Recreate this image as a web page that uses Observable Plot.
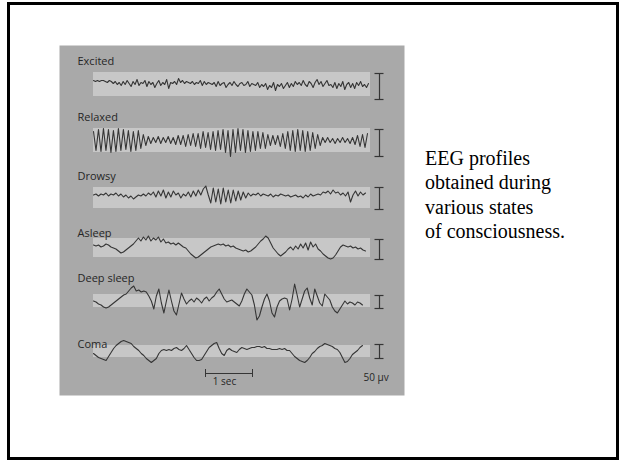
<!DOCTYPE html>
<html><head><meta charset="utf-8">
<script src="https://cdn.jsdelivr.net/npm/d3@7"></script>
<script src="https://cdn.jsdelivr.net/npm/@observablehq/plot@0.6"></script>
<style>
html,body{margin:0;padding:0;background:#fff;}
#wrap{position:relative;width:620px;height:462px;overflow:hidden;}
#chart{position:absolute;left:0;top:0;}
#frame{position:absolute;left:7px;top:2px;width:612px;height:458px;border:3px solid #000;box-sizing:border-box;}
#caption{position:absolute;left:425px;top:146px;font-family:"Liberation Serif","Times New Roman",serif;font-size:20px;line-height:24.3px;color:#000;white-space:nowrap;}
</style></head><body>
<div id="wrap"><div id="chart"></div><div id="frame"></div>
<div id="caption">EEG profiles<br>obtained during<br>various states<br>of consciousness.</div></div>
<script>
// ---------- data ----------
const states = ["Excited", "Relaxed", "Drowsy", "Asleep", "Deep sleep", "Coma"];

const excited = [
4,3,4,3,4,4,3,2,4,3, 1,3,0,2,-1,3,0,4,1,-2, 3,0,5,-1,2,1,4,-2,3,0, 2,-3,1,4,-1,2,0,5,-4,2,
1,3,0,6,2,4,1,3,2,1, 3,0,2,1,4,-1,3,0,2,1, 0,2,-2,3,-1,1,2,-3,0,2, -1,3,0,-2,1,2,-1,0,3,-2,
1,0,-1,2,-3,0,-2,1,-5,-1, -3,2,-6,0,-2,1,-4,-1,2,-3, 1,-2,3,0,2,-1,4,0,-2,3, 1,-3,2,5,0,3,-2,1,4,-1,
0,-3,2,-4,1,-2,3,-5,0,2, -3,1,-4,2,-1,3,-2,0,-3,1];

const relaxed = [
9,-10,11,-11,12,-10,11,-12,10,-11, 12,-10,11,-9,10,-11,9,-10,10,-8, 6,-5,4,-3,3,-2,4,-3,3,-2,
4,-3,3,-4,5,-4,5,-6,6,-5, 7,-6,7,-8,9,-7,8,-9,9,-10, 10,-9,11,-12,10,-16,11,-12,12,-10,
11,-12,10,-11,9,-10,9,-8,8,-8, 6,-5,5,-4,5,-6,7,-8,9,-10, 10,-11,11,-10,10,-11,9,-10,8,-8,
6,-5,3,-2,3,-2,2,-3,2,-2, 3,-2,2,-3,3,-4,5,-6,6,-7,7];

const drowsy = [
3,4,2,4,3,5,2,4,3,5, 2,4,1,3,0,2,-1,1,3,2, 4,2,5,3,6,1,7,2,8,0, 6,1,7,3,5,0,4,2,6,1,
7,2,8,3,9,12,3,-5,10,-4, 9,-6,10,-4,8,-5,8,-3,7,-2, 6,0,5,2,4,3,5,2,4,3, 2,4,1,3,2,4,3,2,3,1,
2,3,1,2,0,3,1,4,2,3, 4,3,6,5,7,4,8,5,6,3, 5,2,6,-4,3,7,2,6,3,5];

const asleep = [
3,2,3,1,2,4,3,1,0,-1, -3,-5,-4,-2,0,2,4,7,10,7, 11,8,12,7,10,8,11,6,9,5, 6,4,5,3,5,3,1,0,-3,-6,
-8,-10,-9,-7,-5,-3,-1,1,2,3, 4,3,4,2,3,1,2,0,-1,-2, -3,-2,-4,-3,-1,1,4,7,9,12, 10,5,0,-3,-6,-8,-6,-4,-1,1,
-2,2,-1,4,0,5,-2,6,1,4, -1,-3,-6,-8,-10,-11,-10,-7,-3,1, 3,2,1,2,0,1,-1,0,-2,-3];

const deepSleep = [
0,-1,-3,-4,-6,-7,-6,-4,-2,0, 2,4,6,7,10,13,15,10,11,9, 10,9,5,0,-8,5,12,-2,-12,0, 11,0,-10,-14,-3,8,2,-3,0,2,
-1,3,1,-2,2,4,0,3,5,9, 12,7,2,-1,0,1,-1,-3,-5,0, 7,12,9,6,-4,-19,-15,-6,2,7, 0,-12,-16,-6,0,2,3,2,-9,2,
17,6,-6,2,10,13,3,-4,12,5, -2,-5,7,4,1,-6,-10,-12,-8,-4, 0,-3,-1,-2,-4,-1,-2,-4];

const coma = [
-2,-4,-6,-7,-8,-9,-5,-1,3,6, 8,10,11,10,9,8,5,3,1,-2, -4,-7,-9,-11,-9,-7,-2,1,2,1, 2,1,3,4,2,1,3,6,2,-2,
-6,-9,-9,-8,-4,0,4,6,8,9, 3,-2,-4,1,3,1,0,-1,2,4, 3,2,3,4,4,5,5,4,5,3, 3,2,2,2,3,2,3,1,1,-2,
-5,-7,-9,-10,-11,-9,-6,-2,0,3, 5,6,8,7,6,5,3,2,-1,-6, -11,-10,-7,-3,-1,1,4,6];

const traces = [excited, relaxed, drowsy, asleep, deepSleep, coma];
const scaleBarLength = [26, 27, 22, 20, 13, 14];   // 50 µV at each row's gain
const timeBarSeconds = 1;
const timeBarLabel = "1 sec";
const voltLabel = "50 µv";

// ---------- layout ----------
const PX_PER_SEC = 47;
const panelLeft = 59, panelRight = 404, panelTop = 45, panelBottom = 395;
const sec = px => (px - panelLeft) / PX_PER_SEC;
const up = px => panelBottom - px;
const rowCenterPx = [84, 140, 197.5, 247.5, 300.5, 351];
const labelBaselinePx = [64, 120, 179, 236, 281, 347];
const bandHeight = [24, 24, 21, 19, 13, 12];
const barTopPx = [73, 129, 187, 239, 295, 344];
const traceEndPx = [368, 367, 365, 365, 362, 362];
const traceStart = sec(93), bandEnd = sec(370), labelX = sec(77), barX = sec(379), capHalf = 4.5 / PX_PER_SEC;
const timeBarStart = sec(205), timeBarY = up(373), tickHalf = 4;

const rows = states.map((s, r) => ({
  state: s,
  center: up(rowCenterPx[r]),
  label: up(labelBaselinePx[r]),
  bandLo: up(rowCenterPx[r]) - bandHeight[r] / 2,
  bandHi: up(rowCenterPx[r]) + bandHeight[r] / 2,
  barHi: up(barTopPx[r]),
  barLo: up(barTopPx[r]) - scaleBarLength[r]
}));
const pts = traces.flatMap((tr, r) => {
  const dt = (sec(traceEndPx[r]) - traceStart) / (tr.length - 1);
  return tr.map((v, i) => ({state: states[r], t: traceStart + i * dt, v: rows[r].center + v}));
});
const caps = rows.flatMap(d => [d.barLo, d.barHi]);
const ink = "#353535";

const chart = Plot.plot({
  width: 620, height: 462,
  marginLeft: panelLeft, marginRight: 620 - panelRight, marginTop: panelTop, marginBottom: 462 - panelBottom,
  x: {domain: [0, (panelRight - panelLeft) / PX_PER_SEC], axis: null},
  y: {domain: [0, panelBottom - panelTop], axis: null},
  style: {background: "transparent"},
  marks: [
    Plot.frame({fill: "#a9a9a9", stroke: "none"}),
    Plot.rect(rows, {x1: () => traceStart, x2: () => bandEnd, y1: "bandLo", y2: "bandHi", fill: "#c7c7c7"}),
    Plot.line(pts, {x: "t", y: "v", z: "state", stroke: ink, strokeWidth: 1.1}),
    Plot.text(rows, {x: () => labelX, y: "label", text: "state", textAnchor: "start", lineAnchor: "bottom",
      fontSize: 11, fontFamily: "Open Sans", fill: "#262626"}),
    Plot.ruleX(rows, {x: () => barX, y1: "barLo", y2: "barHi", stroke: ink, strokeWidth: 1.2}),
    Plot.ruleY(caps, {y: d => d, x1: () => barX - capHalf, x2: () => barX + capHalf, stroke: ink, strokeWidth: 1.2}),
    Plot.ruleY([timeBarY], {y: d => d, x1: () => timeBarStart, x2: () => timeBarStart + timeBarSeconds, stroke: ink, strokeWidth: 1}),
    Plot.ruleX([timeBarStart, timeBarStart + timeBarSeconds], {x: d => d, y1: () => timeBarY - tickHalf, y2: () => timeBarY + tickHalf, stroke: ink, strokeWidth: 1}),
    Plot.text([timeBarLabel], {x: () => sec(224), y: () => up(384), text: d => d, textAnchor: "middle", lineAnchor: "bottom",
      fontSize: 10, fontFamily: "Open Sans", fill: "#262626"}),
    Plot.text([voltLabel], {x: () => sec(363), y: () => up(380), text: d => d, textAnchor: "start", lineAnchor: "bottom",
      fontSize: 10, fontFamily: "Open Sans", fill: "#262626"})
  ]
});
document.getElementById("chart").appendChild(chart);
</script>
</body></html>
